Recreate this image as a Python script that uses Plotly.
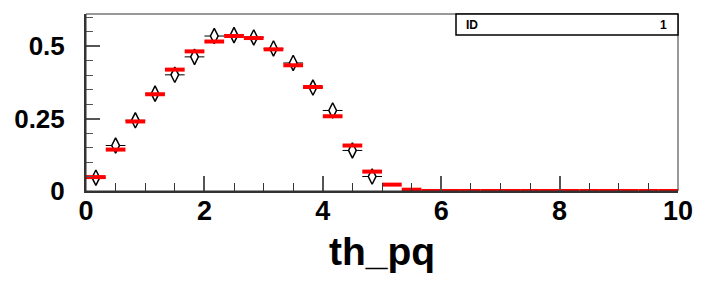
import plotly.graph_objects as go

# Histogram binning: 30 bins over [0, 10]
bin_lo = 0.0
bin_hi = 10.0
n_bins = 30

# Red histogram (simulation) contents per bin
hist_values = [0.048, 0.143, 0.240, 0.334, 0.419, 0.482, 0.516, 0.535, 0.528, 0.489,
               0.434, 0.359, 0.258, 0.157, 0.067, 0.022, 0.0045, 0, 0, 0,
               0, 0, 0, 0, 0, 0, 0, 0, 0, 0]

# Data points (open diamonds) for the non-empty bins
data_values = [0.046, 0.157, 0.244, 0.336, 0.401, 0.463, 0.535, 0.538, 0.530, 0.492,
               0.442, 0.357, 0.278, 0.140, 0.050]

x_ticks = [0, 2, 4, 6, 8, 10]
x_tick_labels = ["0", "2", "4", "6", "8", "10"]
y_ticks = [0, 0.25, 0.5]
y_tick_labels = ["0", "0.25", "0.5"]
x_title = "th_pq"

width = (bin_hi - bin_lo) / n_bins
centers = [bin_lo + (i + 0.5) * width for i in range(n_bins)]
data_centers = centers[:len(data_values)]

fig = go.Figure()

# data points with horizontal bin-width error bars
fig.add_trace(go.Scatter(
    x=data_centers, y=data_values, mode="markers",
    marker=dict(symbol="diamond-tall", size=11, color="white",
                line=dict(color="black", width=1.5)),
    error_x=dict(type="data", array=[width / 2] * len(data_values),
                 color="black", thickness=1, width=0),
    showlegend=False, hoverinfo="x+y"))

# red histogram as horizontal bin segments
fig.add_trace(go.Scatter(
    x=centers, y=hist_values, mode="markers",
    marker=dict(size=0.1, color="red", opacity=0),
    error_x=dict(type="data", array=[width / 2] * n_bins,
                 color="red", thickness=4, width=0),
    showlegend=False, hoverinfo="x+y"))

font_family = "Liberation Sans"

fig.update_layout(
    width=711, height=285,
    margin=dict(l=78, r=41, t=6, b=102),
    paper_bgcolor="white", plot_bgcolor="white",
    xaxis=dict(
        range=[0, 10], showgrid=False, zeroline=False, automargin=False,
        showline=True, linecolor="#333333", linewidth=2,
        ticks="inside", ticklen=15, tickwidth=1.5, tickcolor="#555555",
        tickvals=x_ticks, ticktext=x_tick_labels,
        tickfont=dict(family=font_family, size=27, color="black", weight="bold"),
        ticklabelstandoff=-5,
        minor=dict(dtick=0.5, ticks="inside", ticklen=8, tickwidth=1, tickcolor="#333333"),
    ),
    yaxis=dict(
        range=[0, 0.611], showgrid=False, zeroline=False, automargin=False,
        showline=True, linecolor="#333333", linewidth=2,
        ticks="inside", ticklen=14, tickwidth=1.5, tickcolor="#555555",
        tickvals=y_ticks, ticktext=y_tick_labels,
        tickfont=dict(family=font_family, size=26, color="black", weight="bold"),
        ticklabelstandoff=14,
        minor=dict(dtick=0.05, ticks="inside", ticklen=7, tickwidth=1, tickcolor="#555555"),
    ),
    shapes=[
        dict(type="rect", xref="paper", yref="paper", x0=0, x1=1, y0=0, y1=1,
             line=dict(color="#333333", width=1), layer="above"),
        dict(type="rect", xref="paper", yref="paper", x0=0.625, x1=1.0, y0=0.881, y1=1.0,
             line=dict(color="black", width=1.5), fillcolor="white", layer="above"),
    ],
    annotations=[
        dict(text=x_title, xref="paper", yref="paper", x=0.5, y=-0.21,
             xanchor="center", yanchor="top", showarrow=False,
             font=dict(family=font_family, size=39, color="black", weight="bold")),
        dict(text="ID", xref="paper", yref="paper", x=0.638, y=0.94,
             xanchor="left", yanchor="middle", showarrow=False,
             font=dict(family=font_family, size=12, color="black", weight="bold")),
        dict(text="1", xref="paper", yref="paper", x=0.985, y=0.94,
             xanchor="right", yanchor="middle", showarrow=False,
             font=dict(family=font_family, size=12, color="black", weight="bold")),
    ],
)

fig.write_html("out.html")
